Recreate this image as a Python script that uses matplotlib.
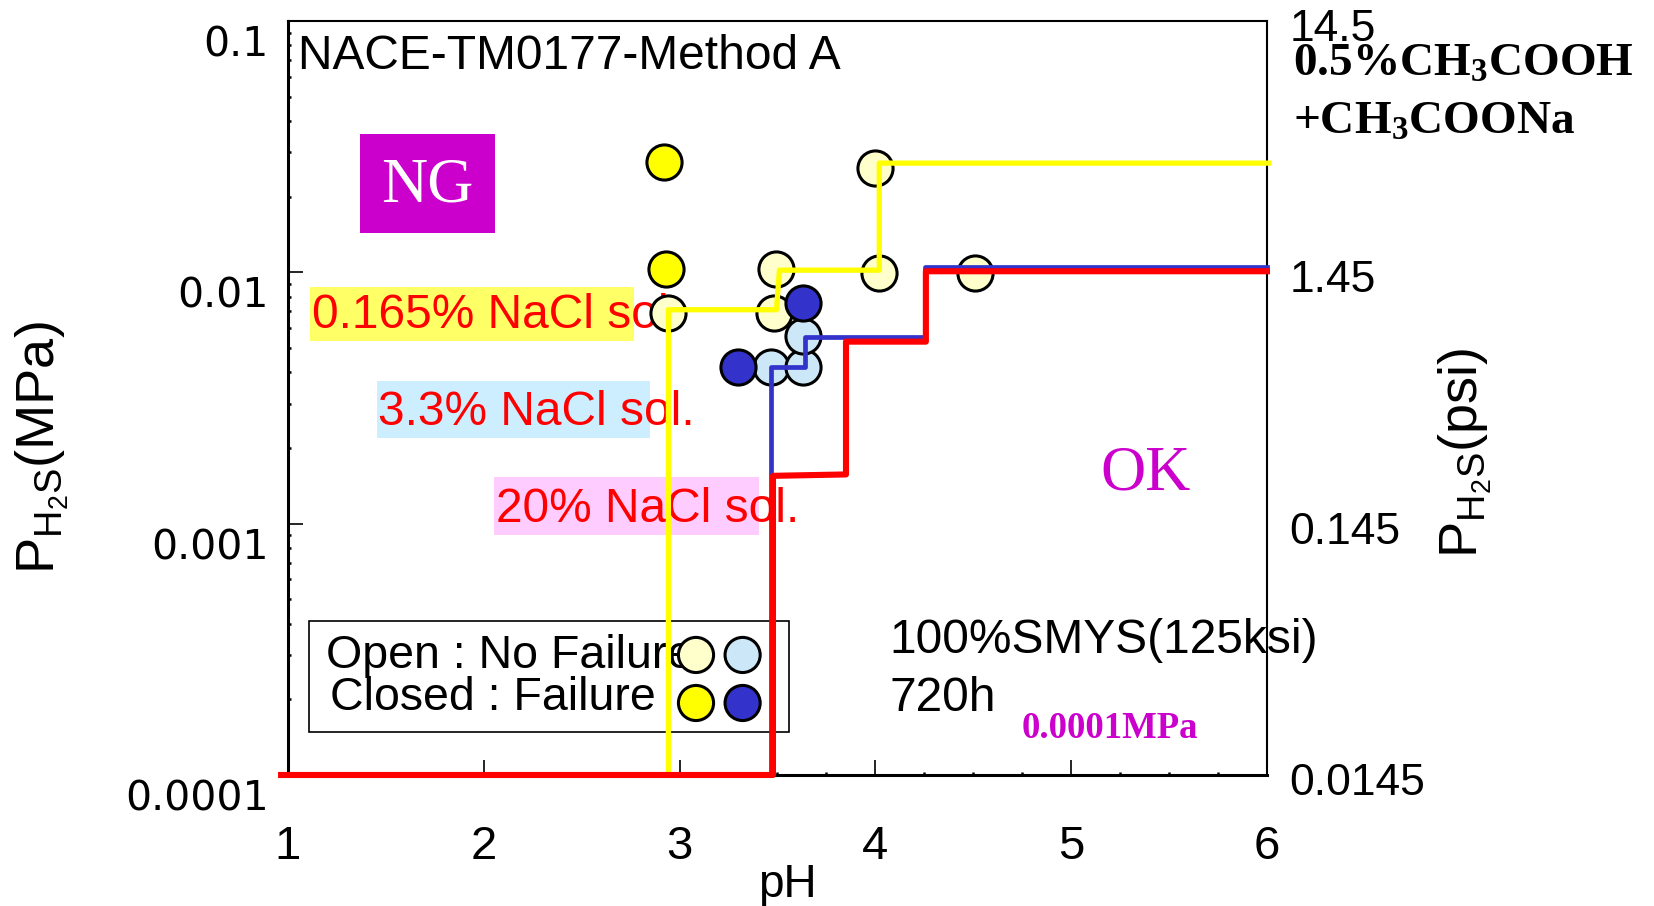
import matplotlib
matplotlib.use("Agg")
import matplotlib.pyplot as plt
from matplotlib.patches import Rectangle
from matplotlib.ticker import FixedLocator, FixedFormatter, MultipleLocator, LogLocator, NullLocator
from matplotlib.transforms import ScaledTranslation

plt.rcParams['font.family'] = ['Liberation Sans', 'DejaVu Sans']
plt.rcParams['mathtext.fontset'] = 'custom'
plt.rcParams['mathtext.sf'] = 'Liberation Sans'
plt.rcParams['mathtext.rm'] = 'Liberation Sans'
plt.rcParams['mathtext.bf'] = 'Liberation Serif:bold'

# test results (pH, P_H2S in MPa)
open_yellow_ph = [2.94, 3.48, 3.49, 4.00, 4.02, 4.51]
open_yellow_p = [0.0069, 0.0069, 0.0103, 0.0259, 0.00995, 0.00995]
closed_yellow_ph = [2.92, 2.93]
closed_yellow_p = [0.0276, 0.0103]
open_blue_ph = [3.465, 3.632, 3.632]
open_blue_p = [0.00422, 0.00422, 0.00558]
closed_blue_ph = [3.30, 3.628]
closed_blue_p = [0.00422, 0.00757]

# SSC boundaries per solution
nacl_0165_ph = [2.943, 2.943, 3.495, 3.51, 4.02, 4.02, 6.01]
nacl_0165_p = [1e-4, 0.0071, 0.0071, 0.0102, 0.0102, 0.0272, 0.0272]
nacl_33_ph = [0.965, 3.469, 3.469, 3.64, 3.64, 4.253, 4.253, 6.0]
nacl_33_p = [1e-4, 1e-4, 0.0042, 0.0042, 0.00555, 0.00555, 0.0105, 0.0105]
nacl_20_ph = [0.965, 3.477, 3.477, 3.85, 3.85, 4.258, 4.258, 6.0]
nacl_20_p = [1e-4, 1e-4, 0.00155, 0.00157, 0.0053, 0.0053, 0.0101, 0.0101]

x_ticks = [1, 2, 3, 4, 5, 6]
y_ticks = [1e-4, 1e-3, 1e-2, 1e-1]
y_tick_labels = ["0.0001", "0.001", "0.01", "0.1"]
psi_ticks = [0.0145, 0.145, 1.45, 14.5]
psi_tick_labels = ["0.0145", "0.145", "1.45", "14.5"]

legend_open_colors = ["#FFFFCC", "#CCE8F8"]
legend_closed_colors = ["#FFFF00", "#3333CC"]

MAG = "#CC00CC"

fig = plt.figure(figsize=(16.54, 9.06), dpi=100)
ax = fig.add_axes([0.1741, 0.1446, 0.5919, 0.8322])
ax.set_xlim(1, 6)
ax.set_yscale('log')
ax.set_ylim(1e-4, 0.1)

# background boxes and labels
ax.add_patch(Rectangle((0.0735, 0.7188), 0.1379, 0.1312, transform=ax.transAxes,
                       facecolor=MAG, edgecolor='none', zorder=1))
ax.text(0.1425, 0.781, "NG", transform=ax.transAxes, ha='center', va='center',
        color='white', fontsize=46, family='Liberation Serif', zorder=2)
ax.text(0.876, 0.398, "OK", transform=ax.transAxes, ha='center', va='center',
        color=MAG, fontsize=45, family='Liberation Serif', zorder=2)

ax.add_patch(Rectangle((0.0225, 0.5756), 0.331, 0.0716, transform=ax.transAxes,
                       facecolor="#FFFF66", edgecolor='none', zorder=1))
ax.add_patch(Rectangle((0.0905, 0.447), 0.2793, 0.0756, transform=ax.transAxes,
                       facecolor="#CCEEFF", edgecolor='none', zorder=1))
ax.add_patch(Rectangle((0.2101, 0.3183), 0.2715, 0.0769, transform=ax.transAxes,
                       facecolor="#FFCCFF", edgecolor='none', zorder=1))
ax.text(0.0245, 0.609, "0.165% NaCl sol.", transform=ax.transAxes, va='center',
        color='red', fontsize=34.5, zorder=2)
ax.text(0.092, 0.481, "3.3% NaCl sol.", transform=ax.transAxes, va='center',
        color='red', fontsize=34.5, zorder=2)
ax.text(0.2125, 0.352, "20% NaCl sol.", transform=ax.transAxes, va='center',
        color='red', fontsize=34.5, zorder=2)

ax.text(0.0107, 0.953, "NACE-TM0177-Method A", transform=ax.transAxes, va='center',
        fontsize=34.5, zorder=2)
ax.text(0.614, 0.1787, "100%SMYS(125ksi)", transform=ax.transAxes, va='center',
        fontsize=34.5, zorder=2)
ax.text(0.614, 0.1018, "720h", transform=ax.transAxes, va='center', fontsize=34.5, zorder=2)
ax.text(0.749, 0.0623, "0.0001MPa", transform=ax.transAxes, va='center', color=MAG,
        fontsize=26.5, family='Liberation Serif', weight='bold', zorder=2)

# legend box
ax.add_patch(Rectangle((0.0215, 0.057), 0.4902, 0.147, transform=ax.transAxes,
                       facecolor='none', edgecolor='black', lw=1.2, zorder=1))
ax.text(0.0388, 0.1575, "Open : No Failure", transform=ax.transAxes, va='center',
        fontsize=33.5, zorder=2)
ax.text(0.0429, 0.1018, "Closed : Failure", transform=ax.transAxes, va='center',
        fontsize=33.5, zorder=2)
ax.scatter([0.4168, 0.4644], [0.1592, 0.1592], s=640, c=legend_open_colors,
           edgecolors='black', linewidths=2.2, transform=ax.transAxes, zorder=5)
ax.scatter([0.4168, 0.4644], [0.0955, 0.0955], s=640, c=legend_closed_colors,
           edgecolors='black', linewidths=2.2, transform=ax.transAxes, zorder=5)

# data points
mk = dict(s=640, edgecolors='black', linewidths=2.2, zorder=3)
ax.scatter(open_yellow_ph, open_yellow_p, c="#FFFFCC", **mk)
ax.scatter(closed_yellow_ph, closed_yellow_p, c="#FFFF00", **mk)
ax.scatter(open_blue_ph, open_blue_p, c="#CCE8F8", **mk)
ax.scatter(closed_blue_ph, closed_blue_p, c="#3333CC", **mk)

# boundaries
ax.plot(nacl_0165_ph, nacl_0165_p, color="#FFFF00", lw=3.8, zorder=4, clip_on=False)
ax.plot(nacl_33_ph, nacl_33_p, color="#3333CC", lw=3.4, zorder=4.1, clip_on=False)
ax.plot(nacl_20_ph, nacl_20_p, color="#FF0000", lw=4.4, zorder=4.2, clip_on=False)

# axes styling
for side in ['left', 'bottom']:
    ax.spines[side].set_linewidth(2.2)
for side in ['top', 'right']:
    ax.spines[side].set_linewidth(1.5)

ax.xaxis.set_major_locator(FixedLocator(x_ticks))
ax.xaxis.set_minor_locator(MultipleLocator(0.25))
ax.yaxis.set_major_locator(FixedLocator(y_ticks))
ax.yaxis.set_major_formatter(FixedFormatter(y_tick_labels))
ax.yaxis.set_minor_locator(LogLocator(base=10, subs=range(2, 10)))
ax.tick_params(which='major', direction='in', length=11, width=1.2)
ax.tick_params(which='minor', direction='in', length=2, width=1.8)
ax.tick_params(axis='x', which='major', labelsize=34, pad=36)
ax.tick_params(axis='y', which='major', labelsize=29.5, pad=14)
for lab in ax.get_yticklabels():
    lab.set_family('DejaVu Sans')
    lab.set_transform(lab.get_transform() + ScaledTranslation(0, -0.2, fig.dpi_scale_trans))

ax.set_xlabel("pH", fontsize=33, va='center')
ax.xaxis.set_label_coords(0.51, -0.146)
ax.set_ylabel(r"$\mathsf{P_{H_2S}(MPa)}$", fontsize=39, va='center')
ax.yaxis.set_label_coords(-0.251, 0.434)

# right axis in psi
ax2 = ax.twinx()
ax2.set_yscale('log')
ax2.set_ylim(1e-4 * 145, 0.1 * 145)
ax2.yaxis.set_major_locator(FixedLocator(psi_ticks))
ax2.yaxis.set_major_formatter(FixedFormatter(psi_tick_labels))
ax2.yaxis.set_minor_locator(NullLocator())
ax2.tick_params(axis='y', length=0, labelsize=32, pad=16)
for lab in ax2.get_yticklabels():
    lab.set_transform(lab.get_transform() + ScaledTranslation(0, -0.04, fig.dpi_scale_trans))
for s in ax2.spines.values():
    s.set_visible(False)
ax2.patch.set_visible(False)
ax2.set_ylabel(r"$\mathsf{P_{H_2S}(psi)}$", fontsize=39, va='center')
ax2.yaxis.set_label_coords(1.203, 0.428)

ax.text(1.0266, 0.944, r"$\mathbf{0.5\%CH_3COOH}$", transform=ax.transAxes,
        va='center', fontsize=34, clip_on=False)
ax.text(1.0266, 0.866, r"$\mathbf{+CH_3COONa}$", transform=ax.transAxes,
        va='center', fontsize=34, clip_on=False)

fig.savefig("out.png", dpi=100)
